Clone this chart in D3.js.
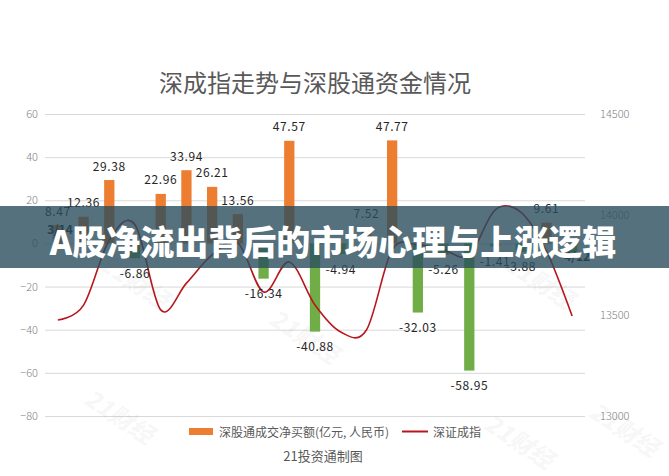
<!DOCTYPE html>
<html><head><meta charset="utf-8">
<script src="https://cdn.jsdelivr.net/npm/d3@7"></script>
<style>
html,body{margin:0;padding:0;background:#fff;}
svg{display:block;font-family:"Noto Sans CJK SC","Noto Sans",sans-serif;}
</style></head>
<body><svg id="c" width="669" height="476"></svg>
<script>
const categories = ["3/14","3/15","3/18","3/19","3/20","3/21","3/22","3/25","3/26","3/27","3/28","3/29","4/1","4/2","4/3","4/4","4/8","4/9","4/10","4/11","4/12"];
const netBuy = [8.47,12.36,29.38,-6.86,22.96,33.94,26.21,13.56,-16.34,47.57,-40.88,-4.94,7.52,47.77,-32.03,-5.26,-58.95,-1.41,-3.88,9.61,-4.12];
const szIndex = [13477,13551,13874,13950,13527,13660,13800,13860,13616,13765,13551,13417,13427,13825,13850,13825,13800,14023,14013,13820,13497];
const leftTicks = [-80,-60,-40,-20,0,20,40,60];
const rightTicks = [13000,13500,14000,14500];
const title = "深成指走势与深股通资金情况";
const legendBar = "深股通成交净买额(亿元, 人民币)";
const legendLine = "深证成指";
const source = "21投资通制图";
const banner = "A股净流出背后的市场心理与上涨逻辑";

const svg = d3.select("#c");
const L = 45, R = 585, T = 114, B = 416;
const x = d3.scaleBand().domain(categories).range([L, R]).paddingInner(0.6).paddingOuter(0.3);
const y = d3.scaleLinear().domain([-80, 60]).range([B, T]);
const y2 = d3.scaleLinear().domain([13000, 14500]).range([B, T]);
const cx = i => x(categories[i]) + x.bandwidth()/2;

// title
svg.append("text").attr("x", 315).attr("y", 81).attr("text-anchor","middle")
  .attr("dominant-baseline","central").attr("font-size",24).attr("fill","#595959").text(title);

// grid
svg.append("g").selectAll("line").data(leftTicks).join("line")
  .attr("x1", L).attr("x2", R).attr("y1", d=>y(d)+0.5).attr("y2", d=>y(d)+0.5)
  .attr("stroke","#d9d9d9").attr("stroke-width",1);

// watermarks
const wm = [[120,415],[305,335],[520,440],[135,280],[540,280],[625,428]];
svg.append("g").selectAll("text").data(wm).join("text")
  .attr("transform",d=>`translate(${d[0]},${d[1]}) rotate(33)`)
  .attr("text-anchor","middle").attr("dominant-baseline","central")
  .attr("font-size",24).attr("font-weight",900).attr("font-style","italic")
  .attr("fill","#000").attr("fill-opacity",0.045).text("21财经");

// left axis
const ax = d3.axisLeft(y).tickValues(leftTicks).tickSize(0).tickPadding(0);
const gL = svg.append("g").attr("transform",`translate(${L-7},0)`).call(ax);
gL.select(".domain").remove();
gL.selectAll("text").attr("font-size",11).attr("fill","#7f7f7f").attr("font-family","'Noto Sans CJK SC',sans-serif").attr("font-weight",300);

// right axis
const ax2 = d3.axisRight(y2).tickValues(rightTicks).tickSize(0).tickPadding(0).tickFormat(d3.format("d"));
const gR = svg.append("g").attr("transform",`translate(${R+15},0)`).call(ax2);
gR.select(".domain").remove();
gR.selectAll("text").attr("font-size",11).attr("fill","#7f7f7f").attr("font-family","'Noto Sans CJK SC',sans-serif").attr("font-weight",300);

// bars
svg.append("g").selectAll("rect").data(netBuy).join("rect")
  .attr("x",(d,i)=>x(categories[i])).attr("width",x.bandwidth())
  .attr("y",d=>y(Math.max(0,d))).attr("height",d=>Math.abs(y(d)-y(0)))
  .attr("fill",d=>d>=0?"#ed7d31":"#70ad47");

// line
const line = d3.line().x((d,i)=>cx(i)).y(d=>y2(d)).curve(d3.curveCardinal.tension(0));
svg.append("path").datum(szIndex).attr("d",line).attr("fill","none").attr("stroke","#b8161c").attr("stroke-width",1.6);

// bar labels (last bar's label is covered by the date label in the reference)
const labelled = netBuy.map((v,i)=>({v,i})).filter(o=>o.i < netBuy.length-1);
svg.append("g").selectAll("text").data(labelled).join("text")
  .attr("x",o=>cx(o.i))
  .attr("y",o=>o.v>=0? y(o.v)-15 : y(o.v)+14)
  .attr("text-anchor","middle").attr("dominant-baseline","central")
  .attr("font-size",12).attr("letter-spacing",0.6).attr("fill","#262626")
  .text(o=>o.v.toFixed(2));

// end category labels
const ends = [0, categories.length-1];
svg.append("g").selectAll("text").data(ends).join("text")
  .attr("x",i=>cx(i) + (i===0?2:5))
  .attr("y",i=>i===0? 228 : 255)
  .attr("text-anchor","middle").attr("dominant-baseline","central")
  .attr("font-size",12).attr("font-weight",700).attr("fill","#1a1a1a")
  .text(i=>categories[i]);

// legend
svg.append("rect").attr("x",189).attr("y",428).attr("width",24).attr("height",7).attr("fill","#ed7d31");
svg.append("text").attr("x",219).attr("y",431.5).attr("dominant-baseline","central").attr("font-size",12).attr("fill","#595959").text(legendBar);
svg.append("line").attr("x1",402).attr("x2",428).attr("y1",431.5).attr("y2",431.5).attr("stroke","#b8161c").attr("stroke-width",2);
svg.append("text").attr("x",433).attr("y",431.5).attr("dominant-baseline","central").attr("font-size",12).attr("fill","#595959").text(legendLine);
svg.append("text").attr("x",323).attr("y",455).attr("text-anchor","middle").attr("dominant-baseline","central").attr("font-size",13).attr("fill","#595959").text(source);

// banner
svg.append("rect").attr("x",0).attr("y",206).attr("width",669).attr("height",62).attr("fill","#2a4d5e").attr("fill-opacity",0.8);
svg.append("text").attr("x",333).attr("y",240).attr("text-anchor","middle").attr("dominant-baseline","central")
  .attr("font-size",34).attr("font-weight",900).attr("fill","#fff").text(banner);
</script></body></html>
